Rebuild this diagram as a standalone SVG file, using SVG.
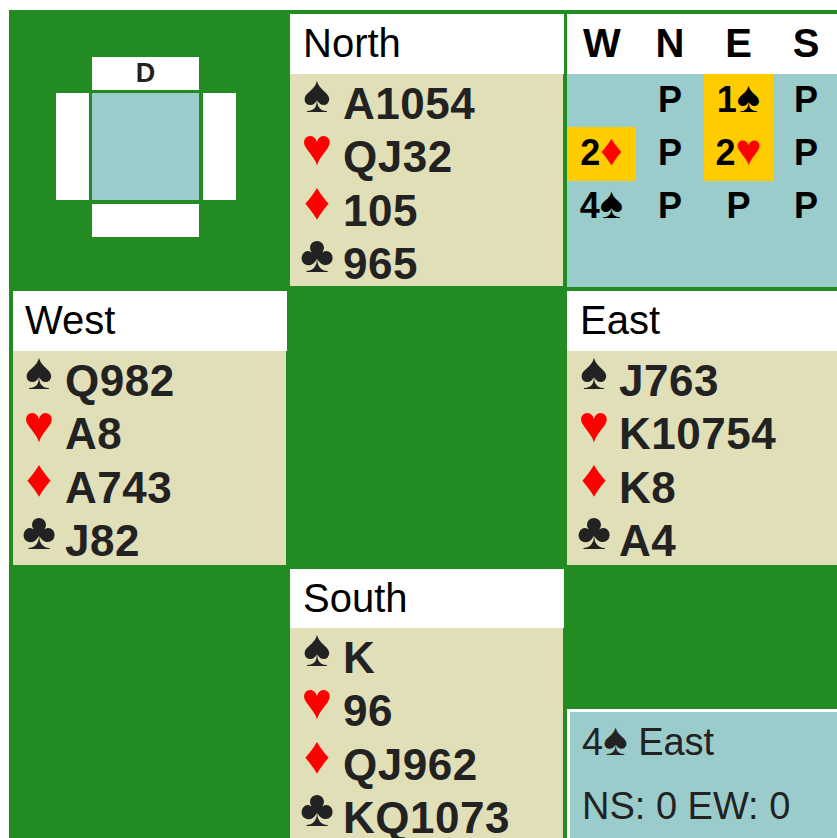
<svg xmlns="http://www.w3.org/2000/svg" width="837" height="838" viewBox="0 0 837 838">
<style>
text{font-family:"Liberation Sans",Arial,sans-serif}
.hdr{font-size:40px;fill:#000}
.cards{font-size:44px;font-weight:bold;fill:#222;letter-spacing:0.5px}
.suit{font-size:52px;text-anchor:middle}
.blk{fill:#222}
.red{fill:#f00}
.bid{font-size:36px;font-weight:bold;text-anchor:middle;fill:#000}
.bs{font-size:44px}
.bidh{font-size:40px;font-weight:bold;text-anchor:middle;fill:#000}
.wh{fill:#fff}
.bg{fill:#e1dfb8}
.bl{fill:#9bcccc}
.yl{fill:#ffcc00}
.ct{font-size:38px;fill:#222}
</style>
<rect width="837" height="838" fill="#fff"/>
<rect x="9" y="10" width="828" height="828" fill="#228b22"/>

<g id="compass">
<rect class="wh" x="92" y="57" width="107" height="33"/>
<rect class="bl" x="92" y="93" width="107" height="107"/>
<rect class="wh" x="56" y="93" width="33" height="107"/>
<rect class="wh" x="203" y="93" width="33" height="107"/>
<rect class="wh" x="92" y="204" width="107" height="33"/>
<text x="145.5" y="82" font-size="27" font-weight="bold" text-anchor="middle" fill="#222">D</text>
</g>

<g id="north">
<rect class="wh" x="290" y="14" width="274" height="60"/>
<rect class="bg" x="290" y="74" width="273" height="212"/>
<text class="hdr" x="303" y="57">North</text>
<text class="suit blk" x="317" y="112">♠</text><text class="cards" x="343" y="119">A1054</text>
<text class="suit red" x="317" y="165">♥</text><text class="cards" x="343" y="172">QJ32</text>
<text class="suit red" x="317" y="219">♦</text><text class="cards" x="343" y="226">105</text>
<text class="suit blk" x="317" y="272">♣</text><text class="cards" x="343" y="279">965</text>
</g>

<g id="bidding">
<rect class="wh" x="567" y="14" width="270" height="60"/>
<rect class="bl" x="567" y="74" width="270" height="213"/>
<rect class="yl" x="567" y="127" width="69" height="54"/>
<rect class="yl" x="704" y="74" width="69" height="107"/>
<text class="bidh" x="602" y="57">W</text>
<text class="bidh" x="670" y="57">N</text>
<text class="bidh" x="738.5" y="57">E</text>
<text class="bidh" x="806" y="57">S</text>
<text class="bid" x="670" y="112">P</text>
<text class="bid" x="738.5" y="112">1<tspan class="bs">♠</tspan></text>
<text class="bid" x="806" y="112">P</text>
<text class="bid" x="601.5" y="165">2<tspan class="bs" fill="#f00">♦</tspan></text>
<text class="bid" x="670" y="165">P</text>
<text class="bid" x="738.5" y="165">2<tspan class="bs" fill="#f00">♥</tspan></text>
<text class="bid" x="806" y="165">P</text>
<text class="bid" x="601.5" y="218">4<tspan class="bs">♠</tspan></text>
<text class="bid" x="670" y="218">P</text>
<text class="bid" x="738.5" y="218">P</text>
<text class="bid" x="806" y="218">P</text>
</g>

<g id="west">
<rect class="wh" x="13" y="291" width="274" height="60"/>
<rect class="bg" x="13" y="351" width="273" height="214"/>
<text class="hdr" x="25" y="334">West</text>
<text class="suit blk" x="39" y="389">♠</text><text class="cards" x="65" y="396">Q982</text>
<text class="suit red" x="39" y="442">♥</text><text class="cards" x="65" y="449">A8</text>
<text class="suit red" x="39" y="496">♦</text><text class="cards" x="65" y="503">A743</text>
<text class="suit blk" x="39" y="549">♣</text><text class="cards" x="65" y="556">J82</text>
</g>

<g id="east">
<rect class="wh" x="567" y="291" width="270" height="60"/>
<rect class="bg" x="567" y="351" width="270" height="214"/>
<text class="hdr" x="580" y="334">East</text>
<text class="suit blk" x="594" y="389">♠</text><text class="cards" x="619" y="396">J763</text>
<text class="suit red" x="594" y="442">♥</text><text class="cards" x="619" y="449">K10754</text>
<text class="suit red" x="594" y="496">♦</text><text class="cards" x="619" y="503">K8</text>
<text class="suit blk" x="594" y="549">♣</text><text class="cards" x="619" y="556">A4</text>
</g>

<g id="south">
<rect class="wh" x="290" y="569" width="274" height="59"/>
<rect class="bg" x="290" y="628" width="273" height="210"/>
<text class="hdr" x="303" y="612">South</text>
<text class="suit blk" x="317" y="666">♠</text><text class="cards" x="343" y="673">K</text>
<text class="suit red" x="317" y="719">♥</text><text class="cards" x="343" y="726">96</text>
<text class="suit red" x="317" y="773">♦</text><text class="cards" x="343" y="780">QJ962</text>
<text class="suit blk" x="317" y="826">♣</text><text class="cards" x="343" y="833">KQ1073</text>
</g>

<g id="contract">
<rect class="wh" x="567" y="709" width="270" height="129"/>
<rect class="bl" x="570" y="712" width="267" height="126"/>
<text class="ct" x="582" y="755">4<tspan font-size="46">♠</tspan> East</text>
<text class="ct" x="582" y="819">NS: 0 EW: 0</text>
</g>
</svg>
